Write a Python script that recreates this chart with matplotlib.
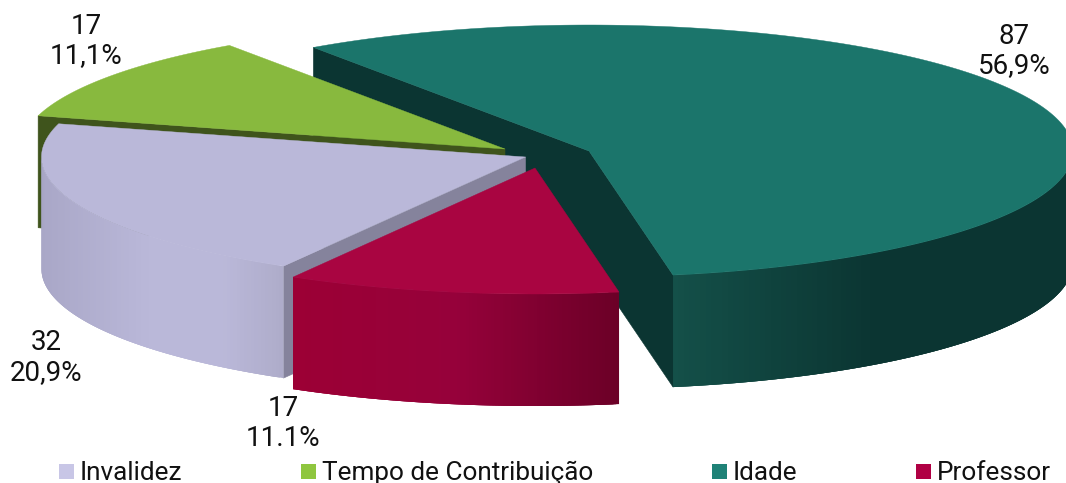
import numpy as np
import matplotlib
matplotlib.use("Agg")
import matplotlib.pyplot as plt
from matplotlib.colors import to_rgb

categories = ["Invalidez", "Tempo de Contribuição", "Idade", "Professor"]
values = [32, 17, 87, 17]
percent_labels = ["20,9%", "11,1%", "56,9%", "11.1%"]

top_colors = ["#bab8d9", "#88b93e", "#1b756b", "#a90541"]
face_colors = ["#85839c", "#3f541c", "#0b3532", "#a90541"]
legend_colors = ["#c8c6e6", "#8fc63f", "#1f8277", "#b00044"]
wall_stops = [
    [(0.0, "#a9a7c7"), (0.45, "#bab8d9"), (0.75, "#bab8d9"), (1.0, "#aeacca")],
    [(0.0, "#3f541c"), (1.0, "#3f541c")],
    [(0.0, "#145049"), (0.5, "#0b3532"), (1.0, "#0b3532")],
    [(0.0, "#9c0035"), (0.5, "#96013a"), (1.0, "#6b0027")],
]
apexes = [(525.5, 157), (505, 149), (589, 151), (535, 168)]
draw_order = [2, 1, 0, 3]
label_centers = [(46, 343), (86, 26), (1014, 36), (283, 408)]
legend_squares = [59, 301, 712, 916]
START = 210.0
RX, RY, DEPTH = 484.0, 126.0, 112.0
FONT = "Roboto"

fig = plt.figure(figsize=(10.66, 4.83), dpi=100)
ax = fig.add_axes([0, 0, 1, 1])
ax.set_xlim(0, 1066)
ax.set_ylim(483, 0)
ax.axis("off")


def rim(apex, deg):
    t = np.radians(deg)
    return apex[0] + RX * np.sin(t), apex[1] - RY * np.cos(t)


def wall_color(stops, f):
    xs = [s[0] for s in stops]
    cs = np.array([to_rgb(s[1]) for s in stops])
    return tuple(np.interp(f, xs, cs[:, k]) for k in range(3))


def radial_face(apex, deg, color, z):
    x, y = rim(apex, deg)
    ax.fill([apex[0], x, x, apex[0]], [apex[1], y, y + DEPTH, apex[1] + DEPTH],
            color=color, lw=0.4, zorder=z)


cum = np.cumsum([0] + values) / sum(values) * 360 + START
for z, i in enumerate(draw_order):
    apex = apexes[i]
    a0, a1 = cum[i], cum[i + 1]
    base = z * 10
    # radial faces that turn toward the viewer
    if i in (0, 1):
        radial_face(apex, a0, face_colors[i], base)
    elif i == 2:
        radial_face(apex, a0, face_colors[i], base)
        radial_face(apex, a1, face_colors[i], base)
    # curved outer wall: only the front half (90..270 degrees)
    lo, hi = None, None
    for shift in (0, 360, -360):
        l, h = max(a0 + shift, 90), min(a1 + shift, 270)
        if l < h:
            lo, hi = l, h
            break
    if lo is not None:
        xs_all = [rim(apex, d)[0] for d in (lo, hi)]
        xmin, xmax = min(xs_all), max(xs_all)
        deg = np.linspace(lo, hi, 120)
        for k in range(len(deg) - 1):
            # each strip overlaps the next ones, so no seams show between them
            seg = np.linspace(deg[k], deg[min(k + 3, len(deg) - 1)], 6)
            xs, ys = rim(apex, seg)
            f = (rim(apex, (deg[k] + deg[k + 1]) / 2)[0] - xmin) / (xmax - xmin)
            ax.fill(np.r_[xs, xs[::-1]], np.r_[ys, ys[::-1] + DEPTH],
                    color=wall_color(wall_stops[i], f), lw=0, zorder=base + 1)
    # top surface
    deg = np.linspace(a0, a1, 240)
    px, py = rim(apex, deg)
    ax.fill(np.r_[apex[0], px], np.r_[apex[1], py], color=top_colors[i],
            lw=0.3, zorder=base + 2)

for i, (cx, cy) in enumerate(label_centers):
    ax.text(cx, cy, str(values[i]), ha="center", va="center", fontsize=20,
            family=FONT, color="#111111", zorder=100)
    ax.text(cx, cy + 30, percent_labels[i], ha="center", va="center", fontsize=20,
            family=FONT, color="#111111", zorder=100)

for name, col, x in zip(categories, legend_colors, legend_squares):
    ax.fill([x, x + 15, x + 15, x], [464, 464, 479, 479], color=col, lw=0, zorder=100)
    ax.text(x + 21, 480, name, ha="left", va="baseline", fontsize=18.8, family=FONT,
            color="#111111", zorder=100)

fig.savefig("out.png", dpi=100)
